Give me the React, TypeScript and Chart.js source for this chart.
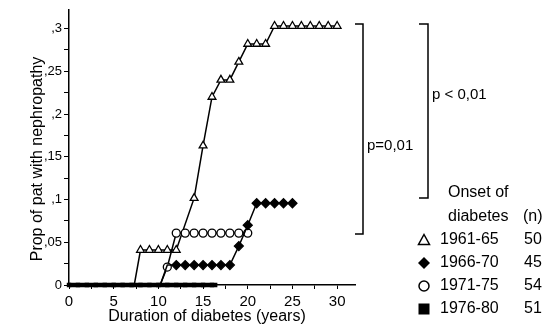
import React, { useEffect, useRef } from "react";
import { Chart, registerables } from "chart.js";

Chart.register(...registerables);

// ---- data ----
const yTickLabels = ["0", ",05", ",1", ",15", ",2", ",25", ",3"];

const triX = [7.3, 8, 9, 10, 11, 12, 14, 15, 16, 17, 18, 19, 20, 21, 22, 23, 24, 25, 26, 27, 28, 29, 30];
const triY = [0, 0.0409, 0.0409, 0.0409, 0.0409, 0.0409, 0.1016, 0.163, 0.22, 0.24, 0.24, 0.261, 0.282, 0.282, 0.282, 0.303, 0.303, 0.303, 0.303, 0.303, 0.303, 0.303, 0.303];

const diaX = [10.2, 11, 12, 13, 14, 15, 16, 17, 18, 19, 20, 21, 22, 23, 24, 25];
const diaY = [0, 0.0233, 0.0233, 0.0233, 0.0233, 0.0233, 0.0233, 0.0233, 0.0233, 0.0455, 0.07, 0.0957, 0.0957, 0.0957, 0.0957, 0.0957];

const cirX = [10.2, 11, 12, 13, 14, 15, 16, 17, 18, 19, 20];
const cirY = [0, 0.021, 0.0607, 0.0607, 0.0607, 0.0607, 0.0607, 0.0607, 0.0607, 0.0607, 0.0607];

const sqX = [0, 1, 2, 3, 4, 5, 6, 7, 8, 9, 10, 11, 12, 13, 14, 15, 16, 16.6];
const sqY = [0, 0, 0, 0, 0, 0, 0, 0, 0, 0, 0, 0, 0, 0, 0, 0, 0, 0];

const seriesNames = ["1961-65", "1966-70", "1971-75", "1976-80"];
const seriesN = ["50", "45", "54", "51"];
const seriesStyles = ["triangle", "rectRot", "circle", "rect"];

const xTitle = "Duration of diabetes (years)";
const yTitle = "Prop of pat with nephropathy";
const pLeft = "p=0,01";
const pRight = "p < 0,01";
const legendTitle1 = "Onset of";
const legendTitle2 = "diabetes";
const legendTitleN = "(n)";

const FONT = "'Liberation Sans', Arial, Helvetica, sans-serif";

const toPts = (xs: number[], ys: number[]) => xs.map((x, i) => ({ x, y: ys[i] }));

const annotations = {
  id: "annotations",
  afterDraw(chart: any) {
    const ctx = chart.ctx as CanvasRenderingContext2D;
    const area = chart.chartArea;
    ctx.save();
    ctx.fillStyle = "#000";
    ctx.strokeStyle = "#000";

    // y title
    ctx.save();
    ctx.translate(38, 159);
    ctx.rotate(-Math.PI / 2);
    ctx.font = `16px ${FONT}`;
    ctx.textAlign = "center";
    ctx.textBaseline = "middle";
    ctx.fillText(yTitle, 0, 0);
    ctx.restore();

    // x title
    ctx.font = `16px ${FONT}`;
    ctx.textAlign = "center";
    ctx.textBaseline = "middle";
    ctx.fillText(xTitle, (area.left + area.right) / 2 - 5, 317);

    // brackets
    ctx.lineWidth = 1.5;
    ctx.beginPath();
    ctx.moveTo(355, 24);
    ctx.lineTo(363, 24);
    ctx.lineTo(363, 234);
    ctx.lineTo(355, 234);
    ctx.stroke();
    ctx.beginPath();
    ctx.moveTo(419, 24);
    ctx.lineTo(428, 24);
    ctx.lineTo(428, 198);
    ctx.lineTo(419, 198);
    ctx.stroke();

    ctx.font = `15px ${FONT}`;
    ctx.textAlign = "left";
    ctx.fillText(pLeft, 367, 146);
    ctx.fillText(pRight, 432, 95);

    // legend
    ctx.font = `16px ${FONT}`;
    ctx.fillText(legendTitle1, 448, 193);
    ctx.fillText(legendTitle2, 448, 217);
    ctx.fillText(legendTitleN, 523, 217);
    const rowsY = [240, 263, 286, 309];
    seriesNames.forEach((name, i) => {
      const y = rowsY[i];
      const mx = 424;
      const style = seriesStyles[i];
      ctx.lineWidth = 1.5;
      if (style === "triangle") {
        ctx.beginPath();
        ctx.moveTo(mx, y - 5.5);
        ctx.lineTo(mx + 5.5, y + 4.5);
        ctx.lineTo(mx - 5.5, y + 4.5);
        ctx.closePath();
        ctx.fillStyle = "#fff";
        ctx.fill();
        ctx.stroke();
      } else if (style === "rectRot") {
        ctx.beginPath();
        ctx.moveTo(mx, y - 6);
        ctx.lineTo(mx + 6, y);
        ctx.lineTo(mx, y + 6);
        ctx.lineTo(mx - 6, y);
        ctx.closePath();
        ctx.fillStyle = "#000";
        ctx.fill();
      } else if (style === "circle") {
        ctx.beginPath();
        ctx.arc(mx, y, 5, 0, Math.PI * 2);
        ctx.fillStyle = "#fff";
        ctx.fill();
        ctx.stroke();
      } else {
        ctx.fillStyle = "#000";
        ctx.fillRect(mx - 5.5, y - 5.5, 11, 11);
      }
      ctx.fillStyle = "#000";
      ctx.fillText(name, 440, y);
      ctx.fillText(seriesN[i], 524, y);
    });
    ctx.restore();
  },
};

export default function App() {
  const ref = useRef<HTMLCanvasElement | null>(null);
  useEffect(() => {
    if (!ref.current) return;
    const common = {
      borderColor: "#000",
      borderWidth: 1.5,
      pointBorderColor: "#000",
      pointBorderWidth: 1.3,
      tension: 0,
      clip: false as any,
      showLine: true,
    };
    const chart = new Chart(ref.current, {
      type: "scatter",
      data: {
        datasets: [
          {
            ...common,
            label: seriesNames[3],
            data: toPts(sqX, sqY),
            borderWidth: 4.5,
            pointStyle: "rect",
            pointRadius: sqX.map((x, i) => (i === sqX.length - 1 ? 0 : 2.2)),
            pointBackgroundColor: "#000",
          },
          {
            ...common,
            label: seriesNames[1],
            data: toPts(diaX, diaY),
            pointStyle: "rectRot",
            pointRadius: diaX.map((x, i) => (i < 2 ? 0 : 4.5)),
            pointBackgroundColor: "#000",
          },
          {
            ...common,
            label: seriesNames[2],
            data: toPts(cirX, cirY),
            pointStyle: "circle",
            pointRadius: cirX.map((x, i) => (i < 1 ? 0 : 4)),
            pointBackgroundColor: "#fff",
          },
          {
            ...common,
            label: seriesNames[0],
            data: toPts(triX, triY),
            pointStyle: "triangle",
            pointRadius: triX.map((x, i) => (i < 1 ? 0 : 4.5)),
            pointBackgroundColor: "#fff",
          },
        ],
      },
      options: {
        responsive: false,
        animation: false,
        devicePixelRatio: 1,
        layout: { padding: { left: 0, top: 8, right: 198, bottom: 0 } },
        plugins: { legend: { display: false }, tooltip: { enabled: false } },
        scales: {
          x: {
            type: "linear",
            min: 0,
            max: 32,
            afterFit: (s: any) => {
              s.height = 40;
            },
            border: { display: true, color: "#000", width: 1.5 },
            grid: { drawOnChartArea: false, drawTicks: true, tickLength: 4, color: "#000", lineWidth: 1 },
            ticks: {
              stepSize: 2.5,
              includeBounds: false,
              autoSkip: false,
              maxRotation: 0,
              padding: 4,
              color: "#000",
              font: { family: FONT, size: 15 },
              callback: (v: any) => (Math.abs(v % 5) < 1e-6 ? String(v) : ""),
            },
          },
          y: {
            type: "linear",
            min: 0,
            max: 0.322,
            afterFit: (s: any) => {
              s.width = 69;
            },
            border: { display: true, color: "#000", width: 1.5 },
            grid: { drawOnChartArea: false, drawTicks: true, tickLength: 5, color: "#000", lineWidth: 1 },
            ticks: {
              stepSize: 0.025,
              includeBounds: false,
              autoSkip: false,
              padding: 2,
              color: "#000",
              font: { family: FONT, size: 13 },
              callback: (v: any) => {
                const idx = Math.round(v / 0.05);
                return Math.abs(v - idx * 0.05) < 1e-6 ? yTickLabels[idx] ?? "" : "";
              },
            },
          },
        },
      },
      plugins: [annotations],
    });
    return () => chart.destroy();
  }, []);
  return (
    <div style={{ position: "absolute", left: 0, top: 0, width: 553, height: 325, background: "#fff" }}>
      <canvas ref={ref} width={553} height={325} style={{ width: 553, height: 325, display: "block" }} />
    </div>
  );
}
